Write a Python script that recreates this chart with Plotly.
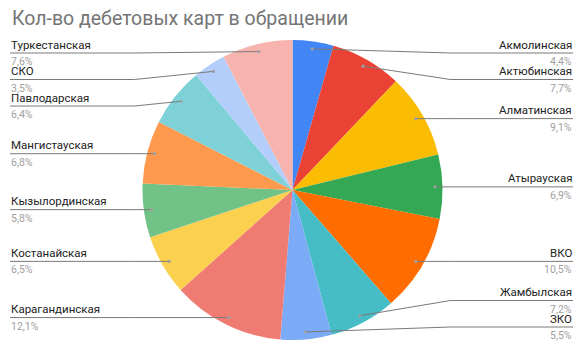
import math
import plotly.graph_objects as go

W, H = 583, 352

title = "Кол-во дебетовых карт в обращении"
regions = ["Акмолинская", "Актюбинская", "Алматинская", "Атырауская", "ВКО",
           "Жамбылская", "ЗКО", "Карагандинская", "Костанайская", "Кызылординская",
           "Мангистауская", "Павлодарская", "СКО", "Туркестанская"]
shares = [4.4, 7.7, 9.1, 6.9, 10.5, 7.2, 5.5, 12.1, 6.5, 5.8, 6.8, 6.4, 3.5, 7.6]
colors = ["#4285F4", "#EA4335", "#FBBC04", "#34A853", "#FF6D01", "#46BDC6", "#7BAAF7",
          "#F07B72", "#FCD04F", "#71C287", "#FF994D", "#7ED1D7", "#B3CEFB", "#F7B4AE"]

# geometry (pixels)
CX, CY, R = 292.5, 190, 150
ANCHOR_F = 0.95
KNEE = 158
Y_MIN, Y_MAX, GAP = 53, 327, 26.5
RIGHT_X, LEFT_X = 573, 10
FONT = "Roboto, Arial, Liberation Sans"

def px(x):
    return x / W

def py(y):
    return 1 - y / H

fig = go.Figure()
fig.add_trace(go.Pie(
    labels=regions, values=shares, sort=False, direction="clockwise", rotation=0,
    marker=dict(colors=colors, line=dict(width=0)),
    textinfo="none", hoverinfo="label+percent", showlegend=False,
    domain=dict(x=[px(CX - R), px(CX + R)], y=[py(CY + R), py(CY - R)]),
))

total = sum(shares)
items = []
cum = 0
for name, v in zip(regions, shares):
    mid = (cum + v / 2) / total * 2 * math.pi
    cum += v
    ax = CX + ANCHOR_F * R * math.sin(mid)
    ay = CY - ANCHOR_F * R * math.cos(mid)
    side = "right" if math.sin(mid) >= 0 else "left"
    items.append(dict(name=name, v=v, ax=ax, ay=ay, side=side, ly=ay))

def resolve(group):
    group.sort(key=lambda d: d["ay"])
    for d in group:
        d["ly"] = min(max(d["ay"], Y_MIN), Y_MAX)
    for _ in range(50):
        for i in range(1, len(group)):
            if group[i]["ly"] < group[i - 1]["ly"] + GAP:
                group[i]["ly"] = group[i - 1]["ly"] + GAP
        if group[-1]["ly"] > Y_MAX:
            group[-1]["ly"] = Y_MAX
        for i in range(len(group) - 2, -1, -1):
            if group[i]["ly"] > group[i + 1]["ly"] - GAP:
                group[i]["ly"] = group[i + 1]["ly"] - GAP

resolve([d for d in items if d["side"] == "right"])
resolve([d for d in items if d["side"] == "left"])

shapes = []
annotations = []
for d in items:
    ly = d["ly"]
    if d["side"] == "right":
        kx = max(CX + KNEE, d["ax"])
        ex = RIGHT_X
        xanchor = "right"
    else:
        kx = min(CX - KNEE, d["ax"])
        ex = LEFT_X
        xanchor = "left"
    path = f"M {px(d['ax'])},{py(d['ay'])} L {px(kx)},{py(ly)} L {px(ex)},{py(ly)}"
    shapes.append(dict(type="path", path=path, xref="paper", yref="paper",
                       line=dict(color="#7a7a7a", width=1), layer="above"))
    rr = 1.6
    shapes.append(dict(type="circle", xref="paper", yref="paper",
                       x0=px(d["ax"] - rr), x1=px(d["ax"] + rr),
                       y0=py(d["ay"] + rr), y1=py(d["ay"] - rr),
                       fillcolor="#a0a0a0", line=dict(width=0), layer="above"))
    annotations.append(dict(x=px(ex), y=py(ly - 0.5), xref="paper", yref="paper",
                            text=d["name"], showarrow=False, xanchor=xanchor,
                            yanchor="bottom", borderpad=0,
                            font=dict(family=FONT, size=11.5, color="#222222")))
    annotations.append(dict(x=px(ex), y=py(ly + 1), xref="paper", yref="paper",
                            text=f"{d['v']:.1f}".replace(".", ",") + "%", showarrow=False,
                            xanchor=xanchor, yanchor="top", borderpad=0,
                            font=dict(family=FONT, size=10.5, color="#a0a0a0")))

annotations.append(dict(x=px(10), y=py(18), xref="paper", yref="paper", text=title,
                        showarrow=False, xanchor="left", yanchor="middle",
                        font=dict(family=FONT, size=19.5, color="#757575")))

fig.update_layout(
    width=W, height=H, margin=dict(l=0, r=0, t=0, b=0),
    paper_bgcolor="white", plot_bgcolor="white",
    shapes=shapes, annotations=annotations,
)
fig.write_html("out.html")
